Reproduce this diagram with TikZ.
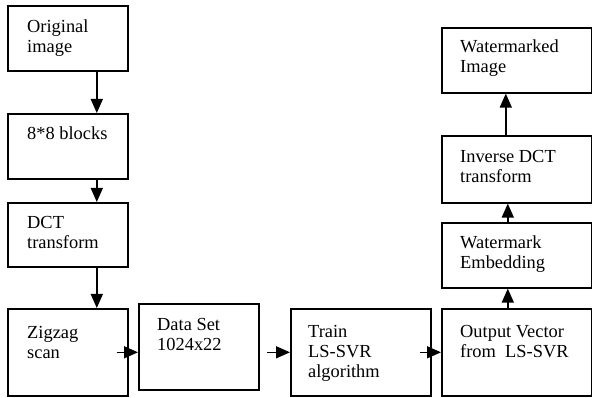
\documentclass[tikz,border=0pt]{standalone}
\usepackage{fontspec}
\setmainfont{Liberation Serif}
\usetikzlibrary{arrows.meta}
\tikzset{
  box/.style={draw, line width=1.6pt, inner sep=0pt, anchor=north west},
  txt/.style={anchor=base west, inner sep=0pt, align=left, font=\fontsize{18.4}{20}\selectfont},
  arr/.style={line width=1.5pt, -{Triangle[length=14pt,width=12pt]}}
}
\begin{document}
\begin{tikzpicture}[x=1pt,y=-1pt]
\useasboundingbox (0,0) rectangle (592,398);
% boxes
\node[box, minimum width=120pt, minimum height=65pt] (orig) at (7,5) {};
\node[box, minimum width=120pt, minimum height=65pt] (blocks) at (7,113) {};
\node[box, minimum width=120pt, minimum height=64pt] (dct) at (7,202) {};
\node[box, minimum width=120pt, minimum height=87pt] (zig) at (7,308) {};
\node[box, minimum width=120pt, minimum height=86pt] (data) at (138,303) {};
\node[box, minimum width=140pt, minimum height=87pt] (train) at (290,308) {};
\node[box, minimum width=150pt, minimum height=87pt] (out) at (441,308) {};
\node[box, minimum width=150pt, minimum height=65pt] (emb) at (441,222) {};
\node[box, minimum width=150pt, minimum height=67pt] (inv) at (441,135) {};
\node[box, minimum width=150pt, minimum height=65pt] (wm) at (441,27) {};
% texts (base = baseline of the last line)
\node[txt] (origt) at ([shift={(20pt,-48pt)}]orig.north west) {Original\\image};
\node[txt] (blockst) at ([shift={(20pt,-27pt)}]blocks.north west) {8*8 blocks};
\node[txt] (dctt) at ([shift={(20pt,-47pt)}]dct.north west) {DCT\\transform};
\node[txt] (zigt) at ([shift={(20pt,-50pt)}]zig.north west) {Zigzag\\scan};
\node[txt] (datat) at ([shift={(19pt,-47pt)}]data.north west) {Data Set\\1024x22};
\node[txt] (traint) at ([shift={(18pt,-69pt)}]train.north west) {Train\\LS-SVR\\algorithm};
\node[txt] (outt) at ([shift={(19pt,-49pt)}]out.north west) {Output Vector\\from\ \ LS-SVR};
\node[txt] (embt) at ([shift={(19pt,-47pt)}]emb.north west) {Watermark\\Embedding};
\node[txt] (invt) at ([shift={(19pt,-48pt)}]inv.north west) {Inverse DCT\\transform};
\node[txt] (wmt) at ([shift={(19pt,-46pt)}]wm.north west) {Watermarked\\Image};
% connectors
\draw[arr] ([xshift=29pt]orig.south) -- ([xshift=29pt]blocks.north);
\draw[arr] ([xshift=29pt]blocks.south) -- ([xshift=29pt]dct.north);
\draw[arr] ([xshift=29pt]dct.south) -- ([xshift=29pt]zig.north);
\draw[arr] ([xshift=-12pt]zig.east) -- (zig.east -| data.west);
\draw[arr] ([xshift=-23pt]train.west) -- (train.west);
\draw[arr] ([xshift=-12pt]train.east) -- (train.east -| out.west);
\draw[arr] ([xshift=-9pt]out.north) -- ([xshift=-9pt]emb.south);
\draw[arr] ([xshift=-9pt]emb.north) -- ([xshift=-9pt]inv.south);
\draw[arr] ([xshift=-11pt]inv.north) -- ([xshift=-11pt]wm.south);
\end{tikzpicture}
\end{document}
